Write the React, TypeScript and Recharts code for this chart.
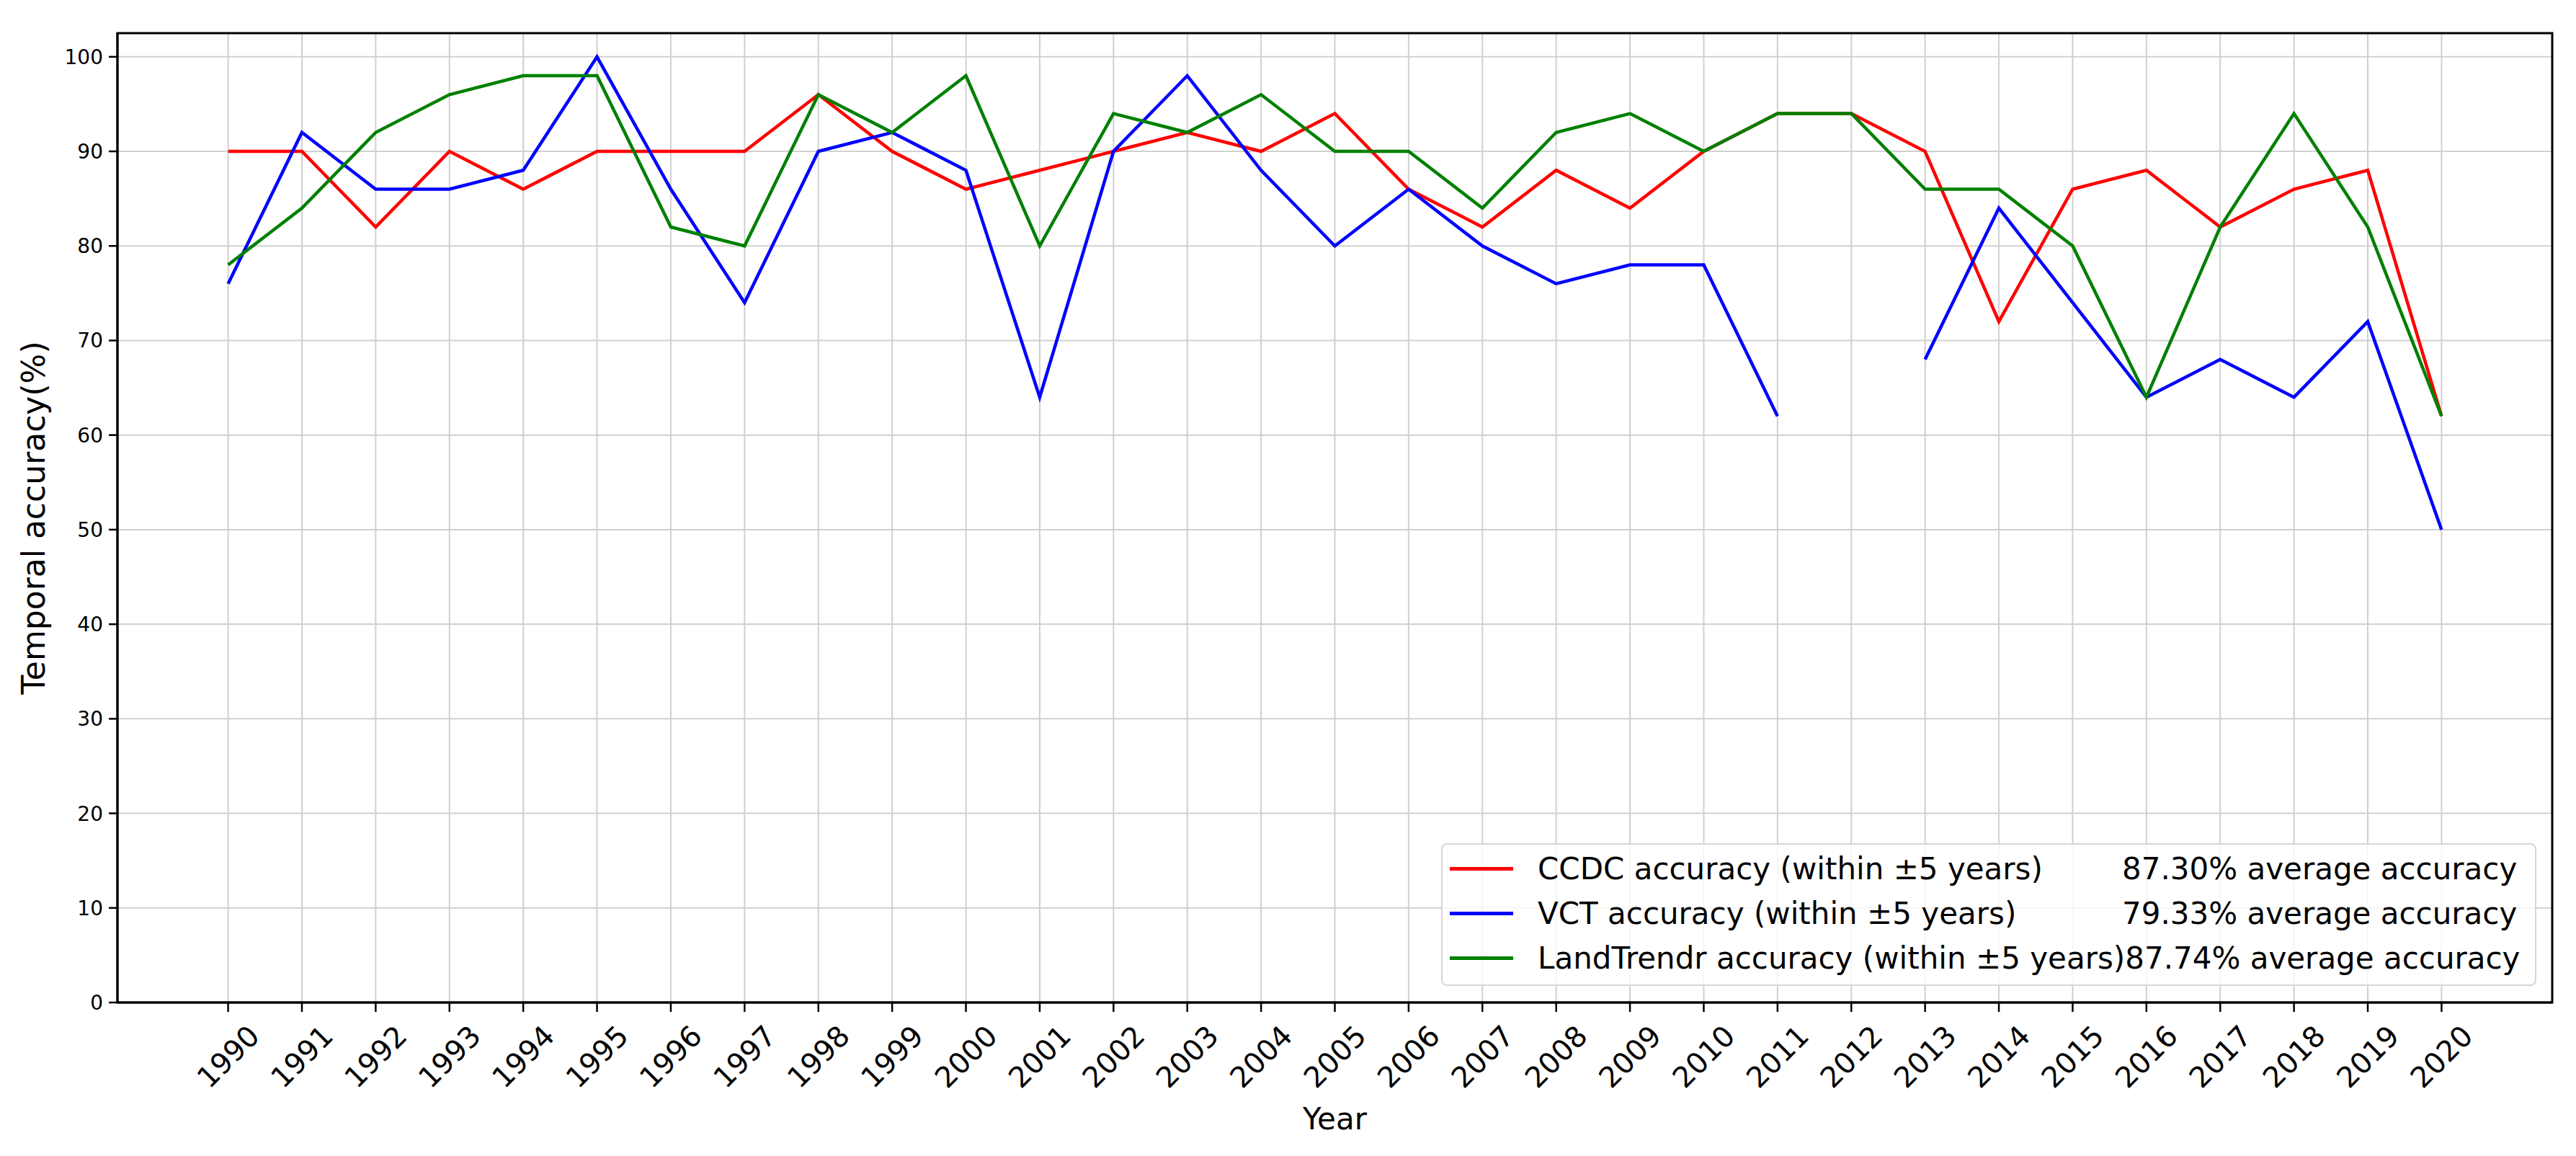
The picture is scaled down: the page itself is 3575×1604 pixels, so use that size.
import {
  CartesianGrid,
  Label,
  Legend,
  Line,
  LineChart,
  ReferenceArea,
  XAxis,
  YAxis,
} from "recharts";

const YEARS = [
  1990, 1991, 1992, 1993, 1994, 1995, 1996, 1997, 1998, 1999, 2000, 2001, 2002, 2003, 2004, 2005,
  2006, 2007, 2008, 2009, 2010, 2011, 2012, 2013, 2014, 2015, 2016, 2017, 2018, 2019, 2020,
];

const CCDC = [
  90, 90, 82, 90, 86, 90, 90, 90, 96, 90, 86, 88, 90, 92, 90, 94, 86, 82, 88, 84, 90, 94, 94, 90,
  72, 86, 88, 82, 86, 88, 62,
];

// 2012 has no VCT value, the line breaks there
const VCT = [
  76, 92, 86, 86, 88, 100, 86, 74, 90, 92, 88, 64, 90, 98, 88, 80, 86, 80, 76, 78, 78, 62, null, 68,
  84, 74, 64, 68, 64, 72, 50,
];

const LANDTRENDR = [
  78, 84, 92, 96, 98, 98, 82, 80, 96, 92, 98, 80, 94, 92, 96, 90, 90, 84, 92, 94, 90, 94, 94, 86,
  86, 80, 64, 82, 94, 82, 62,
];

const SERIES_KEYS = ["ccdc", "vct", "landtrendr"];
const SERIES_NAMES = [
  "CCDC accuracy (within ±5 years)",
  "VCT accuracy (within ±5 years)",
  "LandTrendr accuracy (within ±5 years)",
];
const AVERAGES = ["87.30% average accuracy", "79.33% average accuracy", "87.74% average accuracy"];
const Y_TICKS = [0, 10, 20, 30, 40, 50, 60, 70, 80, 90, 100];

const COLORS = ["#ff0000", "#0000ff", "#008000"];
const FONT = "'DejaVu Sans', sans-serif";

const data = YEARS.map((year, i) => ({
  year,
  ccdc: CCDC[i],
  vct: VCT[i],
  landtrendr: LANDTRENDR[i],
}));

function XTick(props: any) {
  const { x, y, payload } = props;
  const cy = y + 60;
  return (
    <text
      x={x}
      y={cy}
      transform={`rotate(-45 ${x} ${cy})`}
      textAnchor="middle"
      dominantBaseline="central"
      fontSize={40}
      fontFamily={FONT}
      fill="#000"
    >
      {payload.value}
    </text>
  );
}

function renderLegend() {
  return (
    <div
      style={{
        boxSizing: "border-box",
        width: 1520,
        height: 198,
        background: "rgba(255,255,255,0.8)",
        border: "2px solid #d6d6d6",
        borderRadius: 8,
        paddingTop: 2,
        fontFamily: FONT,
        fontSize: 42,
        color: "#000",
      }}
    >
      {SERIES_NAMES.map((name, i) => (
        <div
          key={name}
          style={{ display: "flex", alignItems: "center", height: 62, whiteSpace: "nowrap" }}
        >
          <span
            style={{
              display: "inline-block",
              width: 88,
              height: 5,
              background: COLORS[i],
              marginLeft: 10,
              marginRight: 34,
            }}
          />
          <span style={{ display: "inline-block", minWidth: 811 }}>{name}</span>
          <span>{AVERAGES[i]}</span>
        </div>
      ))}
    </div>
  );
}

export default function App() {
  return (
    <div style={{ position: "absolute", left: 0, top: 0, background: "#fff" }}>
      <LineChart
        width={3575}
        height={1604}
        data={data}
        margin={{ top: 46, right: 33, bottom: 0, left: 0 }}
        style={{ fontFamily: FONT }}
      >
        <CartesianGrid stroke="#d0d0d0" strokeWidth={2} />
        <XAxis
          dataKey="year"
          type="number"
          domain={[1988.5, 2021.5]}
          ticks={YEARS}
          interval={0}
          allowDataOverflow
          height={213}
          tickSize={13}
          tickLine={{ stroke: "#000", strokeWidth: 2.5 }}
          axisLine={{ stroke: "#000", strokeWidth: 3 }}
          tick={<XTick />}
        >
          <Label
            content={(p: any) => {
              const vb = p.viewBox || { x: 163, width: 3379, y: 1391 };
              return (
                <text
                  x={vb.x + vb.width / 2}
                  y={1567}
                  textAnchor="middle"
                  fontSize={42}
                  fontFamily={FONT}
                  fill="#000"
                >
                  Year
                </text>
              );
            }}
          />
        </XAxis>
        <YAxis
          type="number"
          domain={[0, 102.5]}
          ticks={Y_TICKS}
          allowDataOverflow
          width={163}
          tickSize={12}
          tickMargin={8}
          tickLine={{ stroke: "#000", strokeWidth: 2.5 }}
          axisLine={{ stroke: "#000", strokeWidth: 3 }}
          tick={{ fontSize: 28, fill: "#000", fontFamily: FONT }}
        >
          <Label
            content={(p: any) => {
              const vb = p.viewBox || { y: 46, height: 1345 };
              const cy = vb.y + vb.height / 2;
              return (
                <text
                  x={62}
                  y={cy}
                  transform={`rotate(-90 62 ${cy})`}
                  textAnchor="middle"
                  fontSize={44}
                  fontFamily={FONT}
                  fill="#000"
                >
                  Temporal accuracy(%)
                </text>
              );
            }}
          />
        </YAxis>
        <ReferenceArea
          x1={1988.5}
          x2={2021.5}
          y1={0}
          y2={102.5}
          fill="none"
          stroke="#000"
          strokeWidth={3}
          ifOverflow="visible"
        />
        {SERIES_KEYS.map((key, i) => (
          <Line
            key={key}
            type="linear"
            dataKey={key}
            name={SERIES_NAMES[i]}
            stroke={COLORS[i]}
            strokeWidth={4.5}
            dot={false}
            activeDot={false}
            isAnimationActive={false}
          />
        ))}
        <Legend
          layout="vertical"
          align="center"
          verticalAlign="middle"
          content={renderLegend}
          wrapperStyle={{ left: 2000, top: 1170, width: 1520, height: 198 }}
        />
      </LineChart>
    </div>
  );
}
